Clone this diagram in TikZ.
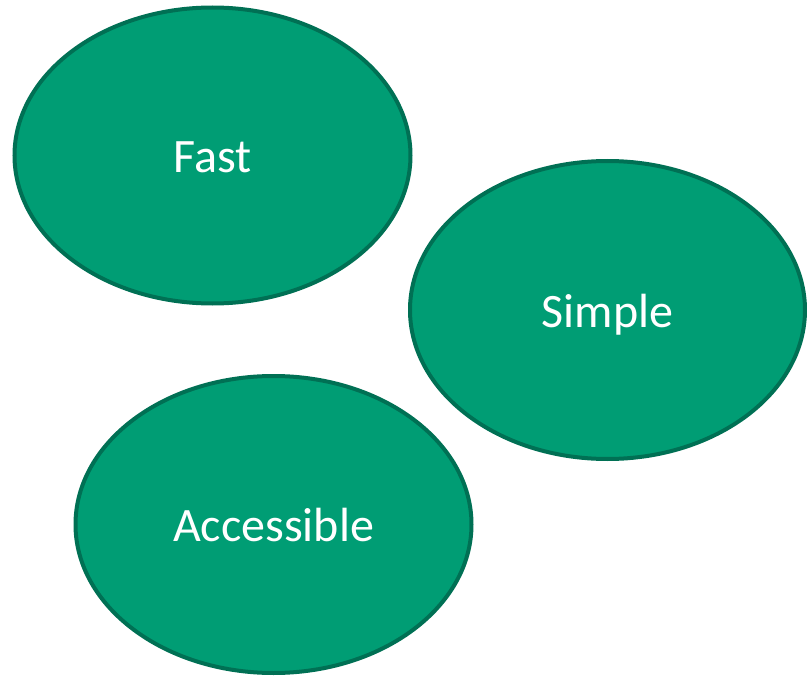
\documentclass[tikz,border=0pt]{standalone}
\usepackage{fontspec}
\setmainfont{Carlito}
\usetikzlibrary{shapes.geometric}
\definecolor{bubblefill}{RGB}{0,157,116}
\definecolor{bubbleline}{RGB}{0,112,84}
\begin{document}
\begin{tikzpicture}[x=1pt,y=-1pt,
  bubble/.style={ellipse, draw=bubbleline, fill=bubblefill, line width=4pt,
    minimum width=396pt, minimum height=296pt, inner sep=0pt,
    text=white, font=\fontsize{48}{56}\selectfont, text height=34pt, text depth=0pt}]
\useasboundingbox (0,0) rectangle (807,677);
\node[bubble] (fast) at (212.5,155.5) {Fast};
\node[bubble, minimum width=395pt, minimum height=298pt] (simple) at (607.5,310) {Simple};
\node[bubble, minimum height=297pt] (acc) at (273.5,524.5) {Accessible};
\end{tikzpicture}
\end{document}
